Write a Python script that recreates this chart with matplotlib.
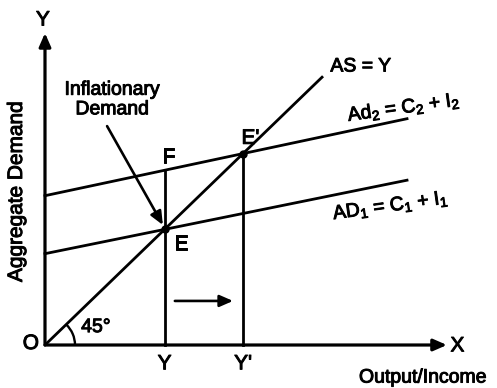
import numpy as np
import matplotlib
matplotlib.use("Agg")
import matplotlib.pyplot as plt
import matplotlib.patheffects as pe
from matplotlib.patches import Arc

plt.rcParams['font.family'] = ['Liberation Sans', 'DejaVu Sans']
plt.rcParams['mathtext.fontset'] = 'custom'
plt.rcParams['mathtext.rm'] = 'Liberation Sans'
plt.rcParams['mathtext.it'] = 'Liberation Sans'

# curves (intercept, slope) and extent
as_end = 9.27
ad1 = (3.15, 0.21)
ad2 = (5.15, 0.22)
ad_end = 12.07
x_axis_end = 13.4
y_axis_end = 10.76

# equilibrium incomes
yE = ad1[0] / (1 - ad1[1])
yE2 = ad2[0] / (1 - ad2[1])

fig = plt.figure(figsize=(4.97, 3.88), dpi=100)
ax = fig.add_axes([0, 0, 1, 1])
ax.set_xlim(-1.5, 15.07)
ax.set_ylim(-1.483, 11.9)
ax.axis("off")

lw = 2.0
# axes with arrows
arr = "-|>,head_length=0.8,head_width=0.35"
ax.annotate("", xy=(0, y_axis_end), xytext=(0, 0),
            arrowprops=dict(arrowstyle=arr, lw=2.3, color="k", shrinkA=0, shrinkB=0))
ax.annotate("", xy=(x_axis_end, 0), xytext=(0, 0),
            arrowprops=dict(arrowstyle=arr, lw=2.3, color="k", shrinkA=0, shrinkB=0))

# 45 degree line
u = np.array([0, as_end])
ax.plot(u, u, color="k", lw=lw, solid_capstyle="butt")

# AD lines
u = np.array([0, ad_end])
ax.plot(u, ad1[0] + ad1[1] * u, color="k", lw=lw)
ax.plot(u, ad2[0] + ad2[1] * u, color="k", lw=lw)

# verticals
ax.plot([yE, yE], [0, ad2[0] + ad2[1] * yE], color="k", lw=lw)
ax.plot([yE2, yE2], [0, yE2], color="k", lw=lw)

# equilibrium points
ax.plot([yE, yE2], [yE, yE2], "o", color="k", ms=5)

# 45 deg arc
ax.add_patch(Arc((0, 0), 2.0, 2.0, theta1=0, theta2=45, lw=1.7, color="k"))

bold = [pe.withStroke(linewidth=0.7, foreground="k")]
fs = 15


def label(x, y, s, size=fs, **kw):
    ax.text(x, y, s, fontsize=size, ha="center", va="center", path_effects=bold, **kw)


label(-0.07, 11.21, "Y")
label(-0.47, 0.05, "O")
label(1.7, 0.6, "45°", 14)
label(yE, -0.65, "Y")
label(yE2, -0.65, "Y'")
label(13.75, -0.03, "X")
label(12.6, -1.14, "Output/Income", 14)
label(-0.95, 5.3, "Aggregate Demand", rotation=90)
label(2.25, 8.45, "Inflationary\nDemand", 14, linespacing=1.2)
label(4.13, 6.48, "F")
label(4.55, 3.48, "E")
label(6.85, 7.13, "E'")
label(10.53, 9.59, "AS = Y", 14)
label(11.97, 8.17, "Ad$_2$ = C$_2$ + I$_2$", 14, rotation=8)
label(11.53, 4.79, "AD$_1$ = C$_1$ + I$_1$", 14, rotation=8)

# pointer arrows
ax.annotate("", xy=(3.93, 4.14), xytext=(2.07, 7.55),
            arrowprops=dict(arrowstyle=arr, lw=1.9, color="k", shrinkA=0, shrinkB=0))
ax.annotate("", xy=(6.27, 1.52), xytext=(4.33, 1.52),
            arrowprops=dict(arrowstyle=arr, lw=1.9, color="k", shrinkA=0, shrinkB=0))

fig.savefig("out.png", dpi=100)
